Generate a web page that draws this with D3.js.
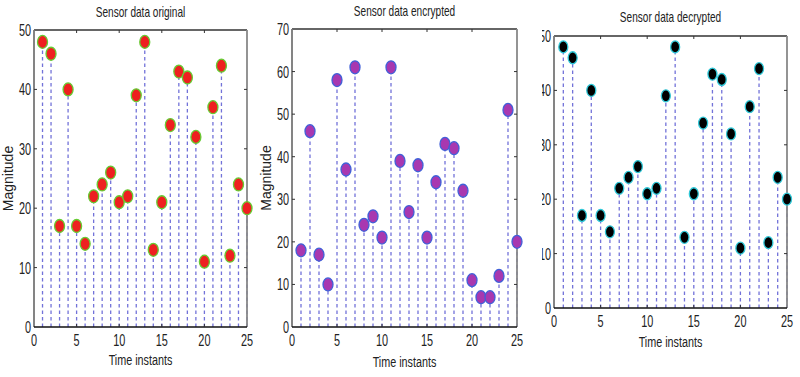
<!DOCTYPE html>
<html><head><meta charset="utf-8">
<script src="https://cdn.jsdelivr.net/npm/d3@7"></script>
<style>
body{margin:0;background:#fff;}
text{font-family:"Liberation Sans",Arial,sans-serif;fill:#222;}
</style></head>
<body><svg id="c" width="800" height="377"></svg>
<script>
const timeInstants = d3.range(1, 26);
const originalValues = [48,46,17,40,17,14,22,24,26,21,22,39,48,13,21,34,43,42,32,11,37,44,12,24,20];
const encryptedValues = [18,46,17,10,58,37,61,24,26,21,61,39,27,38,21,34,43,42,32,11,7,7,12,51,20];
const decryptedValues = [48,46,17,40,17,14,22,24,26,21,22,39,48,13,21,34,43,42,32,11,37,44,12,24,20];
const xTicks = [0,5,10,15,20,25];
const yTicksOriginal = [0,10,20,30,40,50];
const yTicksEncrypted = [0,10,20,30,40,50,60,70];
const yTicksDecrypted = [0,10,20,30,40,50];
const titles = ["Sensor data original","Sensor data encrypted","Sensor data decrypted"];

const svg = d3.select("#c");

const panels = [
  {title:titles[0], vals:originalValues, yt:yTicksOriginal, ymax:50, x0:34, x1:247, y0:327, y1:30,
   fill:"#ee2020", edge:"#66cc33", rx:5, ry:6.5, titleY:17, xlabY:365, ylab:true, ylabX:13, clip:null},
  {title:titles[1], vals:encryptedValues, yt:yTicksEncrypted, ymax:70, x0:292, x1:517, y0:327, y1:29,
   fill:"#a838b0", edge:"#4060d8", rx:5, ry:6.5, titleY:16, xlabY:367, ylab:true, ylabX:271, clip:null},
  {title:titles[2], vals:decryptedValues, yt:yTicksDecrypted, ymax:50, x0:554, x1:787, y0:308, y1:36,
   fill:"#000000", edge:"#30c8d8", rx:4.5, ry:6, titleY:22, xlabY:347, ylab:false, ylabX:0, clip:542}
];

const defs = svg.append("defs");

function narrowText(sel, x, y, size, sx, anchor, str) {
  return sel.append("text")
    .attr("transform", `translate(${x},${y}) scale(${sx},1)`)
    .attr("text-anchor", anchor).attr("font-size", size).text(str);
}

panels.forEach((p, i) => {
  const g = svg.append("g");
  const x = d3.scaleLinear().domain([0,25]).range([p.x0, p.x1]);
  const y = d3.scaleLinear().domain([0,p.ymax]).range([p.y0, p.y1]);

  g.selectAll("line.stem").data(timeInstants).join("line")
    .attr("class","stem")
    .attr("x1", d => x(d)).attr("x2", d => x(d))
    .attr("y1", y(0)).attr("y2", (d,j) => y(p.vals[j]))
    .attr("stroke","#5050d0").attr("stroke-width",1.3)
    .attr("stroke-dasharray","3.5,3").attr("opacity",0.8);

  g.append("line").attr("x1",p.x0).attr("x2",p.x1).attr("y1",p.y1).attr("y2",p.y1).attr("stroke","#333").attr("stroke-width",1.3);
  g.append("line").attr("x1",p.x1).attr("x2",p.x1).attr("y1",p.y1).attr("y2",p.y0).attr("stroke","#888").attr("stroke-width",1.8);
  g.append("line").attr("x1",p.x0).attr("x2",p.x0).attr("y1",p.y1).attr("y2",p.y0).attr("stroke","#777").attr("stroke-width",1.8);
  g.append("line").attr("x1",p.x0).attr("x2",p.x1).attr("y1",p.y0).attr("y2",p.y0).attr("stroke","#111").attr("stroke-width",1.6);

  xTicks.forEach(t => {
    if (t > 0 && t < 25) {
      g.append("line").attr("x1",x(t)).attr("x2",x(t)).attr("y1",p.y0).attr("y2",p.y0-3).attr("stroke","#333");
      g.append("line").attr("x1",x(t)).attr("x2",x(t)).attr("y1",p.y1).attr("y2",p.y1+3).attr("stroke","#333");
    }
  });
  p.yt.forEach(t => {
    if (t > 0 && t < p.ymax) {
      g.append("line").attr("x1",p.x0).attr("x2",p.x0+3).attr("y1",y(t)).attr("y2",y(t)).attr("stroke","#333");
      g.append("line").attr("x1",p.x1).attr("x2",p.x1-3).attr("y1",y(t)).attr("y2",y(t)).attr("stroke","#333");
    }
  });

  xTicks.forEach(t => narrowText(g, x(t), p.y0 + 19, 16, 0.68, "middle", t));

  const yl = g.append("g");
  if (p.clip !== null) {
    defs.append("clipPath").attr("id","clip"+i).append("rect")
      .attr("x", p.clip).attr("y", 0).attr("width", 800).attr("height", 377);
    yl.attr("clip-path","url(#clip"+i+")");
  }
  p.yt.forEach(t => narrowText(yl, p.x0 - 3, y(t) + 6, 16, 0.68, "end", t));

  g.selectAll("ellipse.m").data(timeInstants).join("ellipse")
    .attr("class","m")
    .attr("cx", d => x(d)).attr("cy", (d,j) => y(p.vals[j]))
    .attr("rx", p.rx).attr("ry", p.ry)
    .attr("fill", p.fill).attr("stroke", p.edge).attr("stroke-width",1.3);

  narrowText(g, (p.x0+p.x1)/2, p.titleY, 14, 0.72, "middle", p.title);
  narrowText(g, (p.x0+p.x1)/2, p.xlabY, 15, 0.72, "middle", "Time instants");
  if (p.ylab) {
    g.append("text").attr("transform",`translate(${p.ylabX},${(p.y0+p.y1)/2}) rotate(-90)`)
      .attr("text-anchor","middle").attr("font-size",14).text("Magnitude");
  }
});
</script></body></html>
